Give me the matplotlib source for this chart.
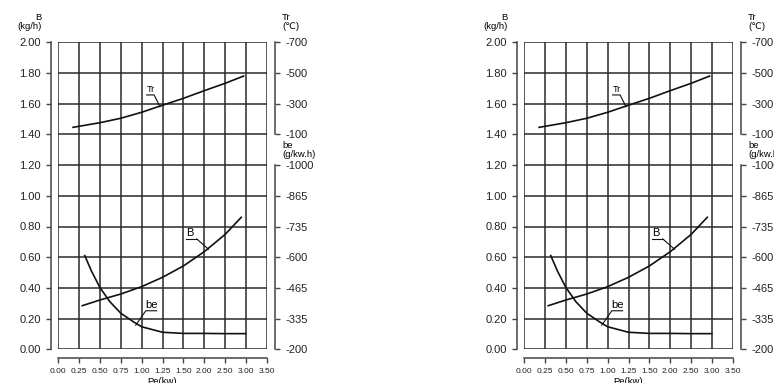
import numpy as np
import matplotlib
matplotlib.use("Agg")
import matplotlib.pyplot as plt

plt.rcParams['font.family'] = ['Liberation Sans', 'DejaVu Sans']

# x axis: labelled grid is not linear in Pe
pe_ticks = [0.0, 0.25, 0.5, 0.75, 1.0, 1.25, 1.5, 2.0, 2.5, 3.0, 3.5]
pe_labels = ["0.00", "0.25", "0.50", "0.75", "1.00", "1.25", "1.50", "2.00", "2.50", "3.00", "3.50"]

b_ticks = [0.0, 0.2, 0.4, 0.6, 0.8, 1.0, 1.2, 1.4, 1.6, 1.8, 2.0]
b_labels = ["0.00", "0.20", "0.40", "0.60", "0.80", "1.00", "1.20", "1.40", "1.60", "1.80", "2.00"]

tr_ticks = [100, 300, 500, 700]
tr_labels = ["-100", "-300", "-500", "-700"]

be_ticks = [200, 333.3, 466.7, 600, 733.3, 866.7, 1000]
be_labels = ["-200", "-335", "-465", "-600", "-735", "-865", "-1000"]

# curves
tr_pe = [0.18, 0.5, 0.75, 1.0, 1.25, 1.5, 2.0, 2.5, 2.94]
tr_val = [146, 176, 205, 244, 290, 335, 385, 433, 480]

b_pe = [0.29, 0.5, 0.75, 1.0, 1.25, 1.5, 2.0, 2.5, 2.885]
b_val = [0.284, 0.321, 0.360, 0.408, 0.469, 0.543, 0.636, 0.749, 0.860]

be_pe = [0.32, 0.4, 0.5, 0.62, 0.75, 0.9, 1.0, 1.25, 1.5, 2.0, 2.5, 2.99]
be_val = [607, 540, 469, 407, 357, 320, 298, 274, 269, 269, 268, 268]

W, H = 774, 383
AXC = '#444444'


def fwd(x):
    return np.interp(x, pe_ticks, np.arange(len(pe_ticks)))


def inv(x):
    return np.interp(x, np.arange(len(pe_ticks)), pe_ticks)


def tr2b(t):
    return 1.3 + np.asarray(t) / 1000.0


def be2b(v):
    return (np.asarray(v) - 200) * 3.0 / 2000.0


def chart(fig, x0):
    left, right, top, bottom = x0, x0 + 209, 42.3, 349.3
    ax = fig.add_axes([left / W, 1 - bottom / H, (right - left) / W, (bottom - top) / H])
    ax.set_xscale('function', functions=(fwd, inv))

    # Tr axis
    axt = ax.twinx()
    axt.set_ylim(-1300, 700)
    axt.set_yticks(tr_ticks)
    axt.set_yticklabels(tr_labels)
    # be axis
    axb = ax.twinx()
    axb.set_ylim(200, 200 + 2000 * 2 / 3)
    axb.set_yticks(be_ticks)
    axb.set_yticklabels(be_labels)
    for a, bnd in [(axt, (100, 700)), (axb, (200, 1000))]:
        for s in ['top', 'left', 'bottom']:
            a.spines[s].set_visible(False)
        a.spines['right'].set_position(('outward', 6))
        a.spines['right'].set_bounds(*bnd)
        a.spines['right'].set_color(AXC)
        a.spines['right'].set_linewidth(1.1)
        a.tick_params(axis='y', direction='out', length=3.5, width=1, color=AXC,
                      pad=4, labelsize=8, labelcolor='#222222')

    ax.set_xlim(0, 3.5)
    ax.set_ylim(0, 2.0)
    ax.set_xticks(pe_ticks)
    ax.set_xticklabels(pe_labels)
    ax.set_yticks(b_ticks)
    ax.set_yticklabels(b_labels)
    ax.xaxis.set_minor_locator(matplotlib.ticker.NullLocator())
    ax.grid(True, color='#2a2a2a', lw=1.1)
    ax.set_axisbelow(True)
    for s in ['top', 'right']:
        ax.spines[s].set_visible(False)
    ax.spines['left'].set_position(('outward', 5))
    ax.spines['bottom'].set_position(('outward', 6))
    for s in ['left', 'bottom']:
        ax.spines[s].set_color(AXC)
        ax.spines[s].set_linewidth(1.1)
    ax.tick_params(axis='y', direction='out', length=3.5, width=1, color=AXC, pad=4,
                   labelsize=8, labelcolor='#222222')
    ax.tick_params(axis='x', direction='out', length=3.5, width=1, color=AXC, pad=4,
                   labelsize=6, labelcolor='#222222')

    # curves drawn on the B axis via conversions
    ax.plot(tr_pe, tr2b(tr_val), color='#111111', lw=1.2)
    ax.plot(b_pe, b_val, color='#111111', lw=1.2)
    ax.plot(be_pe, be2b(be_val), color='#111111', lw=1.2)

    # labels with leader lines
    ax.plot([1.06, 1.15, 1.22], [1.657, 1.657, 1.58], color='#111111', lw=0.8)
    ax.text(1.105, 1.665, "Tr", fontsize=6.5, ha='center', va='bottom')
    ax.plot([1.82, 1.56], [0.719, 0.719], color='#111111', lw=0.8)
    ax.plot([1.82, 2.10], [0.719, 0.652], color='#111111', lw=0.8)
    ax.text(1.66, 0.725, "B", fontsize=8, ha='center', va='bottom')
    ax.plot([1.18, 1.05, 0.93], [0.251, 0.251, 0.157], color='#111111', lw=0.8)
    ax.text(1.12, 0.258, "be", fontsize=8, ha='center', va='bottom')

    fig.text((x0 - 16) / W, 1 - 31 / H, "B\n(kg/h)", fontsize=6.8, ha='right', va='bottom',
             multialignment='right', linespacing=1.05)
    fig.text((x0 + 224) / W, 1 - 31 / H, "Tr\n(\u2103)", fontsize=6.8, ha='left', va='bottom',
             linespacing=1.05)
    fig.text((x0 + 224) / W, 1 - 159 / H, "be\n(g/kw.h)", fontsize=6.8, ha='left', va='bottom',
             linespacing=1.05)
    fig.text((left + right) / 2 / W, 1 - 386 / H, "Pe(kw)", fontsize=6.8, ha='center', va='bottom')


fig = plt.figure(figsize=(W / 100, H / 100), dpi=100)
chart(fig, 58)
chart(fig, 524)
fig.savefig("out.png", dpi=100)
